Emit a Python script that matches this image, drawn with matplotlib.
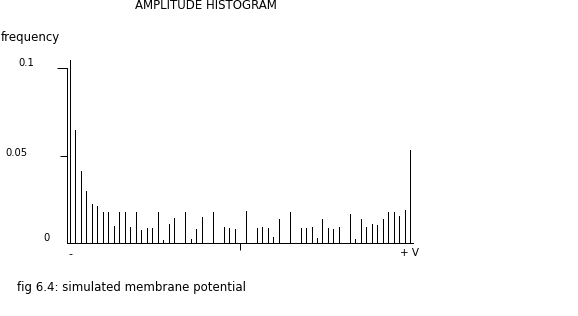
"""
Amplitude histogram - fig 6.4, simulated membrane potential
"""

import matplotlib.pyplot as plt

# bin index (63 bins from -V to +V) and relative frequency per bin
bins = list(range(63))
freq = [
    0.105, 0.065, 0.041, 0.030, 0.0224, 0.0213, 0.018, 0.018, 0.0098, 0.018,
    0.018, 0.009, 0.018, 0.0076, 0.0086, 0.0086, 0.0178, 0.0017, 0.0107, 0.0144,
    0.0, 0.018, 0.0023, 0.0081, 0.015, 0.0, 0.018, 0.0, 0.0092, 0.0088,
    0.0081, 0.0, 0.0186, 0.0, 0.0086, 0.0092, 0.0086, 0.0035, 0.0138, 0.0,
    0.018, 0.0, 0.0086, 0.0086, 0.0092, 0.003, 0.0138, 0.0086, 0.0081, 0.0092,
    0.0, 0.0167, 0.0023, 0.0138, 0.0092, 0.011, 0.0104, 0.0138, 0.018, 0.018,
    0.0155, 0.019, 0.0535,
]
ytick_vals = [0, 0.05, 0.1]
ytick_labels = ["0", "0.05", "0.1"]
x_left_label = "-"
x_right_label = "+ V"

W, H = 578, 316
fig = plt.figure(figsize=(W / 100, H / 100), dpi=100)
fig.patch.set_facecolor("white")

# axes placed so the plotting frame matches the reference pixel layout
ax = fig.add_axes([67 / W, 73 / H, 346 / W, 192 / H])
ax.set_xlim(-0.547, 62.49)
ax.set_ylim(0, 0.11)
ax.patch.set_alpha(0)

ax.vlines(bins, 0, freq, colors="black", linewidths=0.6, antialiased=False)

for side in ["top", "right"]:
    ax.spines[side].set_visible(False)
for side in ["left", "bottom"]:
    ax.spines[side].set_linewidth(0.6)
    ax.spines[side].set_antialiased(False)
ax.spines["left"].set_bounds(0, 0.1)

ax.set_yticks([0.1])
ax.set_yticks([0.05], minor=True)
ax.tick_params(axis="y", which="major", length=7.2, width=0.72, direction="out", labelleft=False)
ax.tick_params(axis="y", which="minor", length=5, width=0.72, direction="out", labelleft=False)
ax.set_xticks([31])
ax.tick_params(axis="x", length=5, width=0.72, direction="out", labelbottom=False)

# y labels sit a little above their ticks, as in the original
offsets = {"0": (-24, 5), "0.05": (-62, 3), "0.1": (-49, 5)}
for v, lbl in zip(ytick_vals, ytick_labels):
    ax.annotate(lbl, (0, v), xycoords=("axes fraction", "data"),
                xytext=offsets[lbl], textcoords="offset pixels",
                ha="left", va="center", fontsize=7.2, annotation_clip=False)

ax.annotate(x_left_label, (bins[0], 0), xytext=(0, -11), textcoords="offset pixels",
            ha="center", va="center", fontsize=8, annotation_clip=False)
ax.annotate(x_right_label, (bins[-1], 0), xytext=(-10, -10), textcoords="offset pixels",
            ha="left", va="center", fontsize=7.5, annotation_clip=False)

fig.text(206 / W, 1 - 5.5 / H, "AMPLITUDE HISTOGRAM", ha="center", va="center", fontsize=8.5)
fig.text(1 / W, 1 - 37 / H, "frequency", ha="left", va="center", fontsize=8.5)
fig.text(17 / W, 1 - 287 / H, "fig 6.4: simulated membrane potential",
         ha="left", va="center", fontsize=8.5)

fig.savefig("out.png", dpi=100)
